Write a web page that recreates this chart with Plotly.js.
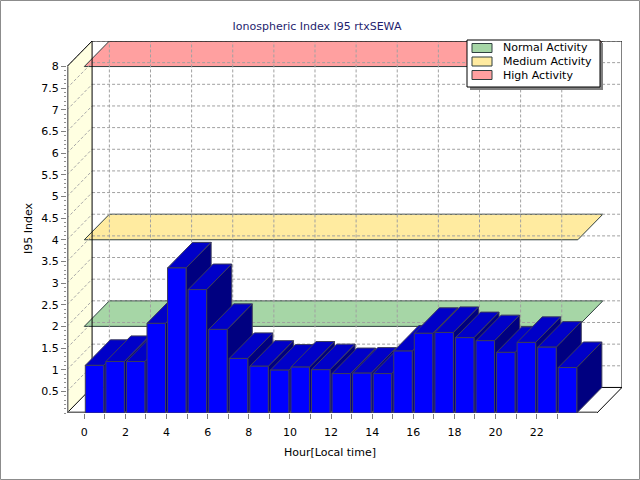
<!DOCTYPE html>
<html>
<head>
<meta charset="utf-8">
<script src="https://cdn.plot.ly/plotly-3.0.1.min.js"></script>
<style>
  html, body { margin: 0; padding: 0; background: #fff; }
  #plot { width: 640px; height: 480px; }
</style>
</head>
<body>
<div id="plot"></div>
<script>
// データ
const hours = [0, 1, 2, 3, 4, 5, 6, 7, 8, 9, 10, 11, 12, 13, 14, 15, 16, 17, 18, 19, 20, 21, 22, 23];
const i95 = [1.10, 1.19, 1.19, 2.07, 3.35, 2.85, 1.93, 1.26, 1.08, 0.99, 1.06, 1.00,
             0.91, 0.92, 0.91, 1.43, 1.84, 1.86, 1.74, 1.67, 1.40, 1.63, 1.52, 1.05];
const levels = [2, 4, 8];
const levelNames = ["Normal Activity", "Medium Activity", "High Activity"];
const levelColors = ["#a6d6a6", "#ffeba0", "#ffa0a0"];
const yTicks = [0.5, 1, 1.5, 2, 2.5, 3, 3.5, 4, 4.5, 5, 5.5, 6, 6.5, 7, 7.5, 8];
const xTickText = hours.map(h => (h % 2 === 0 ? String(h) : ""));

// 疑似3Dの奥行き（データ単位）
const DX = 1.22, DY = 0.59;
const X0 = -0.84, X1 = 24.93, YMAX = 8;
const BARW = 0.9;

// 補助目盛り（0〜8 を 0.1 刻み）
const yMinor = [];
for (let k = 0; k <= 80; k++) yMinor.push(+(k / 10).toFixed(1));

// 余白（ピクセル）
const L = 67, R = 18, T = 41, B = 67;
const PW = 640 - L - R, PH = 480 - T - B;
function pxX(px) { return (px - L) / PW; }
function pxY(py) { return (480 - B - py) / PH; }

const shapes = [];
function poly(pts, fill, line, width, dash) {
  let d = "M" + pts.map(p => p[0] + "," + p[1]).join(" L") + " Z";
  shapes.push({ type: "path", xref: "x", yref: "y", path: d, layer: "below",
    fillcolor: fill, line: { color: line, width: width, dash: dash || "solid" } });
}
function seg(x0, y0, x1, y1, color, width, dash) {
  shapes.push({ type: "line", xref: "x", yref: "y", x0, y0, x1, y1, layer: "below",
    line: { color: color, width: width, dash: dash || "solid" } });
}

// 壁と床
poly([[X0, 0], [X0, YMAX], [X0 + DX, YMAX + DY], [X0 + DX, DY]], "#ffffe1", "rgba(0,0,0,0)", 0);
poly([[X0 + DX, DY], [X0 + DX, YMAX + DY], [X1 + DX, YMAX + DY], [X1 + DX, DY]], "#ffffff", "rgba(0,0,0,0)", 0);
poly([[X0, 0], [X1, 0], [X1 + DX, DY], [X0 + DX, DY]], "#ffffff", "rgba(0,0,0,0)", 0);

// しきい値の帯
levels.forEach((v, k) => {
  poly([[0, v], [24, v], [24 + DX, v + DY], [DX, v + DY]], levelColors[k], "#2f3f3f", 1);
});

// グリッド
yTicks.forEach(v => {
  seg(X0, v, X0 + DX, v + DY, "#a8a8a8", 1, "3px,2px");
  seg(X0 + DX, v + DY, X1 + DX, v + DY, "#a0a0a0", 1, "3px,2px");
});
hours.filter(h => h % 2 === 0).forEach(h => {
  seg(h + DX, DY, h + DX, YMAX + DY, "#a0a0a0", 1, "3px,2px");
});

// 枠線
seg(X0, YMAX, X0 + DX, YMAX + DY, "#000", 1);
seg(X0 + DX, DY, X0 + DX, YMAX + DY, "#000", 1);
seg(X0 + DX, YMAX + DY, X1 + DX, YMAX + DY, "#000", 1);
seg(X1 + DX, DY, X1 + DX, YMAX + DY, "#000", 1);
seg(X0, 0, X0 + DX, DY, "#000", 1);
seg(X1, 0, X1 + DX, DY, "#000", 1);
seg(X0 + DX, DY, X1 + DX, DY, "#000", 1);
seg(X0, 0, X0, YMAX, "#7a7a7a", 3);
seg(X0, 0, X1, 0, "#6a6a6a", 3);

// 凡例（手描き）
shapes.push({ type: "rect", xref: "paper", yref: "paper", x0: pxX(470), x1: pxX(603), y0: pxY(90), y1: pxY(43),
  fillcolor: "#808080", line: { width: 0 }, layer: "above" });
shapes.push({ type: "rect", xref: "paper", yref: "paper", x0: pxX(467), x1: pxX(600), y0: pxY(87), y1: pxY(40),
  fillcolor: "#ffffff", line: { color: "#000", width: 1 }, layer: "above" });
const annotations = [];
levelNames.forEach((name, k) => {
  const cy = 48 + k * 13.5;
  shapes.push({ type: "rect", xref: "paper", yref: "paper", x0: pxX(472), x1: pxX(492), y0: pxY(cy + 4.5), y1: pxY(cy - 4.5),
    fillcolor: levelColors[k], line: { color: "#2f3f3f", width: 1 }, layer: "above" });
  annotations.push({ xref: "paper", yref: "paper", x: pxX(501), y: pxY(cy), xanchor: "left", yanchor: "middle",
    text: name, showarrow: false, font: { size: 11, color: "#000" } });
});

// 外枠
shapes.push({ type: "rect", xref: "paper", yref: "paper", x0: pxX(0.5), x1: pxX(639.5), y0: pxY(479.5), y1: pxY(0.5),
  line: { color: "#8c8c8c", width: 1 }, layer: "above" });

// 軸タイトル
annotations.push({ xref: "paper", yref: "paper", x: pxX(330), y: pxY(453), xanchor: "center", yanchor: "middle",
  text: "Hour[Local time]", showarrow: false, font: { size: 11, color: "#000" } });
annotations.push({ xref: "paper", yref: "paper", x: pxX(28), y: pxY(228), xanchor: "center", yanchor: "middle",
  text: "I95 Index", textangle: -90, showarrow: false, font: { size: 11, color: "#000" } });

// 3Dの棒：左から順に 側面→上面→前面
const traces = [];
function face(xs, ys, color) {
  traces.push({ type: "scatter", mode: "lines", x: xs, y: ys, fill: "toself", fillcolor: color,
    line: { color: "#3c3c5c", width: 1 }, hoverinfo: "skip", showlegend: false });
}
hours.forEach((h, i) => {
  const v = i95[i];
  const xl = h + (1 - BARW) / 2, xr = h + 1 - (1 - BARW) / 2;
  face([xr, xr + DX, xr + DX, xr, xr], [0, DY, v + DY, v, 0], "#000080");
  face([xl, xr, xr + DX, xl + DX, xl], [v, v, v + DY, v + DY, v], "#0000c8");
  face([xl, xr, xr, xl, xl], [0, 0, v, v, 0], "#0000ff");
});

const layout = {
  width: 640, height: 480,
  margin: { l: L, r: R, t: T, b: B, pad: 0 },
  paper_bgcolor: "#ffffff", plot_bgcolor: "rgba(0,0,0,0)",
  font: { family: "DejaVu Sans, Verdana, sans-serif", size: 11, color: "#000" },
  title: { text: "Ionospheric Index I95 rtxSEWA", font: { size: 11, color: "#1e1e6e" },
    x: 317 / 640, xref: "container", y: 1 - 26 / 480, yref: "container", xanchor: "center", yanchor: "middle" },
  showlegend: false,
  xaxis: { range: [X0, X1 + DX], showgrid: false, zeroline: false, showline: false,
    tickmode: "array", tickvals: hours, ticktext: xTickText,
    ticks: "outside", ticklen: 5, tickcolor: "#808080", ticklabelstandoff: 4, fixedrange: true },
  yaxis: { range: [0, YMAX + DY], showgrid: false, zeroline: false, showline: false,
    tickmode: "array", tickvals: yTicks, ticktext: yTicks.map(String),
    ticks: "outside", ticklen: 5, tickcolor: "#808080",
    minor: { tickmode: "array", tickvals: yMinor, ticks: "outside", ticklen: 2, tickcolor: "#909090" }, fixedrange: true },
  shapes: shapes,
  annotations: annotations,
  hovermode: false
};

Plotly.newPlot("plot", traces, layout, { displayModeBar: false, staticPlot: true });
</script>
</body>
</html>
